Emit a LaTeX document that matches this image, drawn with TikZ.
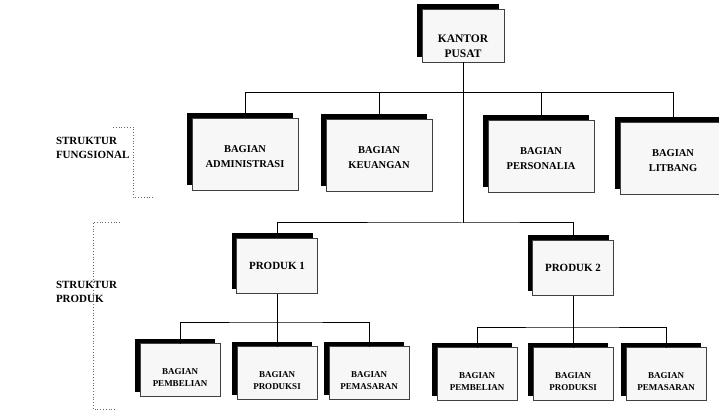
\documentclass[tikz,border=0pt]{standalone}
\usepackage{fontspec}
\setmainfont{Liberation Serif}
\usetikzlibrary{shadows}
\tikzset{
    font = \bfseries,
    every node/.style = {
        inner sep = 0pt,
        outer sep = 0pt
    },
    unit/.style = {
        draw = black!75,
        line width = 0.6pt,
        fill = gray!6,
        align = center,
        drop shadow = {shadow xshift=-5pt,shadow yshift=5pt,fill=black,opacity=1}
    },
    head/.style = {
        unit,
        minimum width = 82pt,
        minimum height = 53pt,
        text height = 43pt,
        font = \fontsize{11.5}{15}\selectfont\bfseries
    },
    dept/.style = {
        unit,
        minimum width = 106pt,
        minimum height = 72pt,
        text height = 28pt,
        font = \fontsize{10.5}{15}\selectfont\bfseries
    },
    prod/.style = {
        unit,
        minimum width = 81pt,
        minimum height = 55pt,
        font = \fontsize{11}{13}\selectfont\bfseries
    },
    sub/.style = {
        unit,
        minimum width = 80pt,
        minimum height = 53pt,
        text height = 34pt,
        font = \fontsize{9}{12.5}\selectfont\bfseries
    },
    note left/.style = {
        anchor = west,
        align = left,
        font = \fontsize{11}{14}\selectfont\bfseries
    },
    link/.style = {
        line width = 1pt
    },
    bracket/.style = {
        dotted,
        line width = 0.8pt,
        black!60
    }
}

\begin{document}
\begin{tikzpicture}
    \useasboundingbox (0,0) rectangle (719pt,-411pt);
    % kantor pusat
    \node (pusat) at (463pt,-36pt) [head]{KANTOR\\PUSAT};
    % struktur fungsional
    \node (adm) at (245pt,-154pt) [dept]{BAGIAN\\ADMINISTRASI};
    \node (keu) at (379pt,-155pt) [dept]{BAGIAN\\KEUANGAN};
    \node (pers) at (541pt,-156pt) [dept]{BAGIAN\\PERSONALIA};
    \node (lit) at (673pt,-158pt) [dept]{BAGIAN\\LITBANG};
    % struktur produk
    \node (prod1) at (277pt,-266pt) [prod]{PRODUK 1};
    \node (prod2) at (573pt,-268pt) [prod]{PRODUK 2};
    \node (beli1) at (180pt,-370pt) [sub]{BAGIAN\\PEMBELIAN};
    \node (pro1) at (277pt,-373pt) [sub]{BAGIAN\\PRODUKSI};
    \node (pas1) at (369pt,-373pt) [sub]{BAGIAN\\PEMASARAN};
    \node (beli2) at (477pt,-374pt) [sub]{BAGIAN\\PEMBELIAN};
    \node (pro2) at (573pt,-374pt) [sub]{BAGIAN\\PRODUKSI};
    \node (pas2) at (666pt,-374pt) [sub]{BAGIAN\\PEMASARAN};
    % garis
    \coordinate (bus) at (463pt,-93pt);
    \coordinate (trunk) at (463pt,-223pt);
    \coordinate (bus1) at (277pt,-322pt);
    \coordinate (bus2) at (573pt,-327pt);
    \draw[link] (pusat) -- (trunk);
    \draw[link] (adm.north) -- (adm.north |- bus) -- (lit.north |- bus) -- (lit.north);
    \draw[link] (keu.north) -- (keu.north |- bus);
    \draw[link] (pers.north) -- (pers.north |- bus);
    \draw[link] (prod1.north) |- (trunk) -| (prod2.north);
    \draw[link] (prod1) -- (bus1);
    \draw[link] (beli1.north) |- (bus1) -| (pas1.north);
    \draw[link] (pro1) -- (bus1);
    \draw[link] (prod2) -- (bus2);
    \draw[link] (beli2.north) |- (bus2) -| (pas2.north);
    \draw[link] (pro2) -- (bus2);
    % keterangan
    \node (fung) at (56pt,-148pt) [note left]{STRUKTUR\\FUNGSIONAL};
    \node (prodk) at (56pt,-292pt) [note left]{STRUKTUR\\PRODUK};
    \draw[bracket] (113pt,-127pt) -- (133pt,-127pt) -- (133pt,-197pt) -- (153pt,-197pt);
    \draw[bracket] (120pt,-222pt) -- (93pt,-222pt) -- (93pt,-409pt) -- (117pt,-409pt);
\end{tikzpicture}
\end{document}
